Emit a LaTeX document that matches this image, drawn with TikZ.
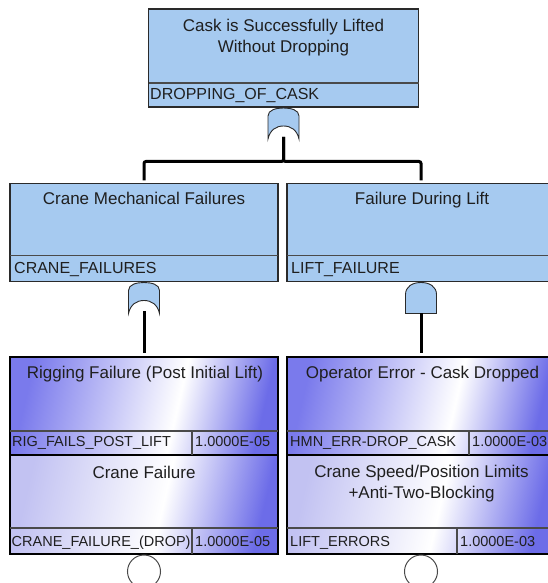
\documentclass[tikz,border=0pt]{standalone}
\usepackage{fontspec}
\setmainfont{Liberation Sans}
\usetikzlibrary{positioning,calc}
\definecolor{gateblue}{HTML}{A6CAF0}
\definecolor{edgegray}{HTML}{2A2A2A}
\definecolor{rowgray}{HTML}{4A4A4A}
\definecolor{evdark}{HTML}{7A7AEC}
\definecolor{evpale}{HTML}{C2C2F2}
\definecolor{evdeep}{HTML}{6C6CE8}
\pgfdeclarehorizontalshading{evshadeA}{100bp}{color(0bp)=(evdark); color(25bp)=(evdark); color(57bp)=(white); color(75bp)=(evdeep); color(100bp)=(evdeep)}
\pgfdeclarehorizontalshading{evshadeB}{100bp}{color(0bp)=(evpale); color(25bp)=(evpale); color(54bp)=(white); color(75bp)=(evdeep); color(100bp)=(evdeep)}
\tikzset{
  gatebox/.style={
    draw=edgegray,
    line width=1.3pt,
    fill=gateblue,
    minimum height=98pt,
    inner sep=0pt,
    outer sep=0pt
  },
  eventbox/.style={
    draw=black,
    line width=2.4pt,
    shade,
    shading=evshadeA,
    shading angle=-13,
    minimum width=268pt,
    minimum height=98pt,
    inner sep=0pt,
    outer sep=0pt
  },
  paleevent/.style={eventbox, shading=evshadeB},
  gatespot/.style={minimum width=31pt, minimum height=31pt, inner sep=0pt, outer sep=0pt},
  gateline/.style={draw=edgegray, line width=0.9pt, fill=gateblue},
  eventcirc/.style={circle, draw=rowgray, line width=1pt, fill=white, minimum size=33pt, inner sep=0pt, outer sep=0pt},
  titletext/.style={font=\fontsize{17}{21}\selectfont, text=black!88, align=center, inner sep=0pt, anchor=base},
  idtext/.style={font=\fontsize{16}{18}\selectfont, text=black!88, inner sep=0pt, anchor=base west},
  evidtext/.style={idtext, font=\fontsize{14.5}{17}\selectfont},
  rowline/.style={draw=rowgray, line width=1.2pt},
  link/.style={draw=black, line width=3pt, rounded corners=2pt}
}
% gate outlines, drawn on an empty 31x31 node
\newcommand{\orshape}[1]{\draw[gateline, shift={(#1.south west)}] (0,0) -- (0,23) .. controls (0,29) and (8,31) .. (15.5,31) .. controls (23,31) and (31,29) .. (31,23) -- (31,0) .. controls (29,9) and (23,13) .. (15.5,13) .. controls (8,13) and (2,9) .. (0,0) -- cycle;}
\newcommand{\andshape}[1]{\draw[gateline, shift={(#1.south west)}] (0,0) -- (0,19) .. controls (0,27) and (7,31) .. (15.5,31) .. controls (24,31) and (31,27) .. (31,19) -- (31,0) -- cycle;}

\begin{document}
\begin{tikzpicture}[x=1pt, y=1pt]
\useasboundingbox (0,0) rectangle (548,583);
\clip (0,0) rectangle (548,583);

% gate events
\node[gatebox, minimum width=270pt] (dropcask) at (283.5,525) {};
\node[gatebox, minimum width=268pt] (cranefail) at (144,350.5) {};
\node[gatebox, minimum width=268pt] (liftfail) at (421,350.5) {};

% basic events
\node[eventbox] (rigfail) at (144,177) {};
\node[paleevent, minimum height=99pt] (cranedrop) at (144,78.5) {};
\node[eventbox] (hmnerr) at (421,177) {};
\node[paleevent, minimum height=99pt] (lifterr) at (421,78.5) {};

% gates
\node[gatespot, below=1pt of dropcask] (g0) {};
\node[gatespot, below=1pt of cranefail] (g1) {};
\node[gatespot, below=1pt of liftfail] (g2) {};
\orshape{g0}
\orshape{g1}
\andshape{g2}

\node[eventcirc, below=1pt of cranedrop] (c1) {};
\node[eventcirc, below=1pt of lifterr] (c2) {};

% name rows
\draw[rowline] ($(dropcask.south west)+(0,24)$) -- ($(dropcask.south east)+(0,24)$);
\draw[rowline] ($(cranefail.south west)+(0,26)$) -- ($(cranefail.south east)+(0,26)$);
\draw[rowline] ($(liftfail.south west)+(0,26)$) -- ($(liftfail.south east)+(0,26)$);
\draw[rowline] ($(rigfail.south west)+(0,24)$) -- ($(rigfail.south east)+(0,24)$);
\draw[rowline] ($(cranedrop.south west)+(0,26)$) -- ($(cranedrop.south east)+(0,26)$);
\draw[rowline] ($(hmnerr.south west)+(0,24)$) -- ($(hmnerr.south east)+(0,24)$);
\draw[rowline] ($(lifterr.south west)+(0,26)$) -- ($(lifterr.south east)+(0,26)$);
\draw[rowline] ($(rigfail.south west)+(182,0)$) -- ++(0,24);
\draw[rowline] ($(cranedrop.south west)+(182,0)$) -- ++(0,26);
\draw[rowline] ($(hmnerr.south west)+(182,0)$) -- ++(0,24);
\draw[rowline] ($(lifterr.south west)+(170,0)$) -- ++(0,26);

% texts
\node[titletext] at ($(dropcask.north)+(0,-44)$) {Cask is Successfully Lifted\\Without Dropping};
\node[idtext] at ($(dropcask.south west)+(1.5,7)$) {DROPPING\_OF\_CASK};
\node[titletext] at ($(cranefail.north)+(0,-21)$) {Crane Mechanical Failures};
\node[idtext] at ($(cranefail.south west)+(4,8)$) {CRANE\_FAILURES};
\node[titletext] at ($(liftfail.north)+(1,-21)$) {Failure During Lift};
\node[idtext] at ($(liftfail.south west)+(4,8)$) {LIFT\_FAILURE};
\node[titletext] at ($(rigfail.north)+(1,-22)$) {Rigging Failure (Post Initial Lift)};
\node[evidtext] at ($(rigfail.south west)+(2,8)$) {RIG\_FAILS\_POST\_LIFT};
\node[evidtext] at ($(rigfail.south west)+(185,8)$) {1.0000E-05};
\node[titletext] at ($(cranedrop.north)+(0,-24)$) {Crane Failure};
\node[evidtext] at ($(cranedrop.south west)+(1.5,7)$) {CRANE\_FAILURE\_(DROP)};
\node[evidtext] at ($(cranedrop.south west)+(185,7)$) {1.0000E-05};
\node[titletext] at ($(hmnerr.north)+(1.5,-22)$) {Operator Error - Cask Dropped};
\node[evidtext] at ($(hmnerr.south west)+(3,8)$) {HMN\_ERR-DROP\_CASK};
\node[evidtext] at ($(hmnerr.south west)+(185,8)$) {1.0000E-03};
\node[titletext] at ($(lifterr.north)+(0.5,-44)$) {Crane Speed/Position Limits\\+Anti-Two-Blocking};
\node[evidtext] at ($(lifterr.south west)+(3,7)$) {LIFT\_ERRORS};
\node[evidtext] at ($(lifterr.south west)+(173,7)$) {1.0000E-03};

% connectors
\draw[link, shorten >=3pt] ([yshift=2pt]g0.south) |- ($(cranefail.north)+(0,22)$) -- (cranefail.north);
\draw[link, shorten >=3pt] ([yshift=2pt]g0.south) |- ($(liftfail.north)+(0,22)$) -- (liftfail.north);
\draw[link, shorten >=4pt] ([yshift=2pt]g1.south) -- (rigfail.north);
\draw[link, shorten >=4pt] (g2.south) -- (hmnerr.north);
\end{tikzpicture}
\end{document}
